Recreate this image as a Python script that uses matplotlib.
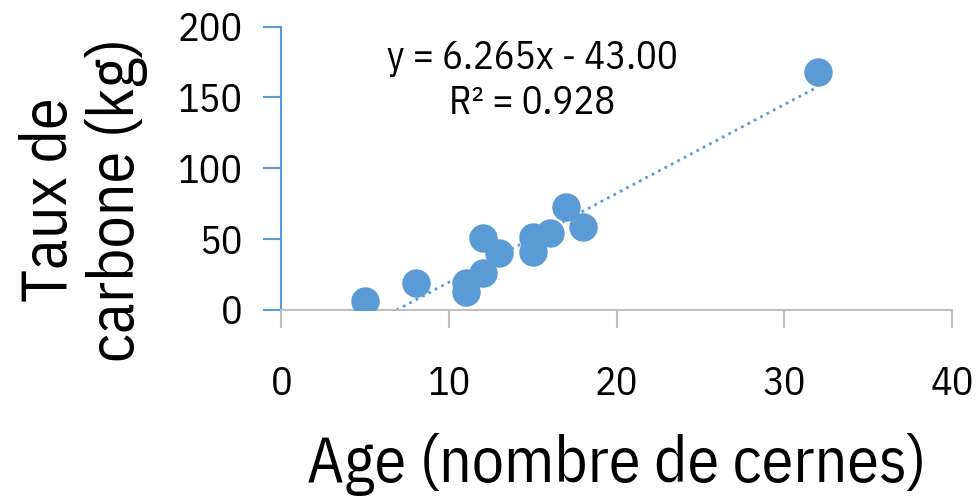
import matplotlib
matplotlib.use("Agg")
import matplotlib.pyplot as plt
import numpy as np

# Tree age (ring count) vs. carbon content
age = [5, 8, 11, 11, 12, 12, 13, 15, 15, 16, 17, 18, 32]
carbon = [6.5, 19, 19, 13, 26, 51, 40, 41, 51.5, 54.5, 73, 58.5, 168]

slope = 6.265
intercept = -43.00
r2 = 0.928

x_ticks = [0, 10, 20, 30, 40]
y_ticks = [0, 50, 100, 150, 200]

blue = "#5B9BD5"
grey = "#BFBFBF"

plt.rcParams["font.family"] = ["IBM Plex Sans Condensed", "DejaVu Sans"]

fig = plt.figure(figsize=(9.78, 5.0), dpi=100)
ax = fig.add_axes([0.2878, 0.38, 0.6856, 0.567])

ax.scatter(age, carbon, s=420, color=blue, zorder=3, linewidths=0)

# Linear trend line over the data range, clipped at y = 0
x0 = max(min(age), -intercept / slope)
xs = np.array([x0, max(age)])
ax.plot(xs, slope * xs + intercept, linestyle=(0, (1, 1.6)), color=blue,
        linewidth=2.0, zorder=2)

ax.set_xlim(0, 40)
ax.set_ylim(0, 200)
ax.set_xticks(x_ticks)
ax.set_yticks(y_ticks)
ax.set_xticklabels([str(t) for t in x_ticks], fontsize=29)
ax.set_yticklabels([str(t) for t in y_ticks], fontsize=29)

for side in ("top", "right"):
    ax.spines[side].set_visible(False)
ax.spines["left"].set_color(blue)
ax.spines["left"].set_linewidth(1.5)
ax.spines["bottom"].set_color(grey)
ax.spines["bottom"].set_linewidth(1.5)
ax.spines["left"].set_zorder(1)

ax.tick_params(axis="x", direction="out", length=13, width=1.5, color=grey,
               pad=27)
ax.tick_params(axis="y", direction="out", length=13, width=1.5, color=blue,
               pad=15)

ax.set_xlabel("Age (nombre de cernes)", fontsize=46, labelpad=22)
fig.text(0.085, 0.6, "Taux de\ncarbone (kg)", rotation=90, ha="center",
         va="center", multialignment="center", fontsize=46, linespacing=1.1)

ax.text(0.3736, 0.808, f"y = {slope:.3f}x - {abs(intercept):.2f}\nR² = {r2:.3f}",
        transform=ax.transAxes, ha="center", va="center", fontsize=28,
        linespacing=1.3)

fig.savefig("out.png", dpi=100)
